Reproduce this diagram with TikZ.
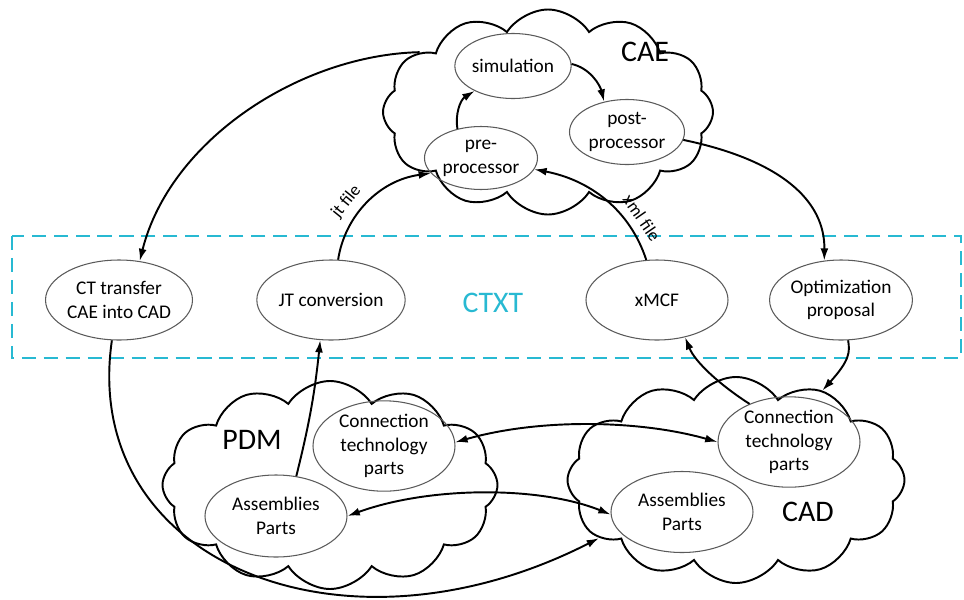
\documentclass[tikz,border=0pt]{standalone}
\usepackage{fontspec}
\setmainfont{Carlito}
\usetikzlibrary{shapes.geometric,shapes.symbols,arrows.meta,positioning}
\definecolor{ctxtblue}{RGB}{40,185,210}
\definecolor{ovalgray}{RGB}{90,90,90}

\begin{document}
\begin{tikzpicture}[x=0.02cm,y=-0.02cm,>={Latex[length=7pt,width=4.5pt]}]
\tikzstyle{proc}=[ellipse,draw=ovalgray,line width=0.6pt,
inner sep=0pt,minimum width=142*0.02cm,minimum height=80*0.02cm,
align=center,font=\fontsize{11}{13.5}\selectfont]
\tikzstyle{blob}=[cloud,draw=black,line width=1.1pt,cloud puffs=12,
cloud puff arc=115,aspect=1.6,inner sep=0pt]
\tikzstyle{flow}=[line width=1.1pt,->]
\tikzstyle{big}=[font=\fontsize{17}{19}\selectfont]
\useasboundingbox (0,0) rectangle (964,599);

% systems
\node[blob,minimum width=330*0.02cm,minimum height=205*0.02cm] at (548,112) (cae) {};
\node[blob,minimum width=335*0.02cm,minimum height=208*0.02cm] at (330,485) (pdm) {};
\node[blob,minimum width=337*0.02cm,minimum height=206*0.02cm,shape border rotate=8] at (736,480) (cad) {};
\node[big] at (645,52) (caename) {CAE};
\node[big] at (252,440) (pdmname) {PDM};
\node[big] at (808,512) (cadname) {CAD};

% CTXT band
\draw[ctxtblue,line width=0.9pt,dash pattern=on 8pt off 4.5pt] (12,236) rectangle (961,358);
\node[big,text=ctxtblue] at (493,303) (ctxt) {CTXT};

% CAE
\node[proc,minimum width=114*0.02cm,minimum height=65*0.02cm] at (513,66) (sim) {simulation};
\node[proc,minimum width=115*0.02cm,minimum height=65*0.02cm] at (627,132) (post) {post-\\processor};
\node[proc,minimum width=113*0.02cm,minimum height=63*0.02cm] at (481,158) (pre) {pre-\\processor};

% CTXT
\node[proc] at (119,300) (ctt) {CT transfer\\CAE into CAD};
\node[proc] at (331,300) (jtc) {JT conversion};
\node[proc] at (657,300) (xmcf) {xMCF};
\node[proc] at (841,300) (opt) {Optimization\\proposal};

% PDM and CAD
\node[proc,minimum height=83*0.02cm] at (384,446) (pdmct) {Connection\\technology\\parts};
\node[proc,minimum height=82*0.02cm] at (276,516) (pdmap) {Assemblies\\Parts};
\node[proc,minimum height=81*0.02cm] at (789,442) (cadct) {Connection\\technology\\parts};
\node[proc,minimum height=81*0.02cm] at (682,512) (cadap) {Assemblies\\Parts};

\draw[flow] (pre.129) .. controls (455,115) and (460,100) .. (sim.213);
\draw[flow] (sim.2) .. controls (590,68) and (600,85) .. (post.127);
\draw[flow] (cae.155) .. controls (300,55) and (170,140) .. (ctt.62);
\draw[flow] (ctt.-100) .. controls (80,560) and (340,670) .. (cad.203);
\draw[flow] (jtc.80) .. controls (345,215) and (380,180) .. node[pos=0.4,sloped,above=1pt,font=\fontsize{10}{12}\selectfont]{jt file} (pre.197);
\draw[flow] (xmcf.105) .. controls (630,210) and (590,180) .. node[pos=0.25,sloped,above=1pt,font=\fontsize{10}{12}\selectfont]{xml file} (pre.-12);
\draw[flow] (post.-8) .. controls (780,160) and (825,200) .. (opt.113);
\draw[flow] (opt.-80) .. controls (850,352) and (850,360) .. (cad.46);
\draw[flow] (cadct.136) .. controls (720,385) and (695,362) .. (xmcf.-53);
\path[flow] (pdmap.63) edge[bend right=4] (jtc.-105);
\draw[flow,<->] (pdmct.3) .. controls (540,418) and (640,420) .. (cadct.180);
\draw[flow,<->] (pdmap.0) .. controls (430,486) and (540,486) .. (cadap.182);

\end{tikzpicture}
\end{document}
